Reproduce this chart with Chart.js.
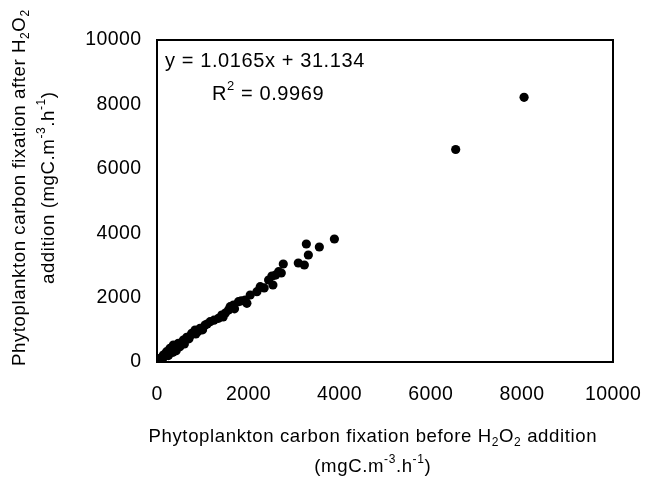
<!DOCTYPE html>
<html>
<head>
<meta charset="utf-8">
<script src="https://cdn.jsdelivr.net/npm/chart.js@4/dist/chart.umd.min.js"></script>
<style>
html,body{margin:0;padding:0;background:#fff;}
#wrap{width:646px;height:479px;position:relative;}
</style>
</head>
<body>
<div id="wrap"><canvas id="c" width="646" height="479"></canvas></div>
<script>
const xValues = [8050, 6550, 3890, 3560, 3275, 3319, 3099, 3231, 2769, 2725,
  2667, 2520, 2447, 2542, 2264, 2191, 2044, 1934, 1971, 1787, 1677, 1604, 1568, 1421, 1348,
  1165, 1055, 945, 835, 762, 652, 579, 469, 359, 286, 212, 139, 66, 29,
  1100, 1000, 900, 850, 700, 600, 500, 420, 350, 250, 300, 200, 120, 80, 400,
  1250, 1500, 1850, 2350, 2600, 1700, 1450, 720, 550, 160];
const yValues = [8220, 6600, 3820, 3571, 3665, 3323, 3075, 3012, 3043, 2764,
  2805, 2671, 2547, 2391, 2339, 2184, 2081, 1925, 1822, 1874, 1770, 1718, 1615, 1460, 1356,
  1253, 1149, 1046, 994, 891, 767, 683, 580, 528, 425, 321, 217, 115, 10,
  1180, 1000, 950, 870, 720, 560, 470, 350, 300, 200, 380, 280, 90, 40, 460,
  1300, 1520, 1900, 2300, 2700, 1650, 1400, 800, 600, 180];
const tickValues = [0, 2000, 4000, 6000, 8000, 10000];
const equationText = "y = 1.0165x + 31.134";
const r2Label = "R";
const r2Value = " = 0.9969";

const FONT = "'Liberation Sans', Arial, sans-serif";

function drawRich(ctx, segs, x, y, size, align, ls) {
  ls = ls || 0;
  const small = Math.round(size * 0.65);
  ctx.letterSpacing = ls + 'px';
  let total = 0;
  const widths = segs.map(s => {
    ctx.font = (s[1] === 'n' ? size : small) + 'px ' + FONT;
    const w = ctx.measureText(s[0]).width;
    total += w;
    return w;
  });
  total -= ls;
  let cx = align === 'center' ? x - total / 2 : (align === 'right' ? x - total : x);
  ctx.textAlign = 'left';
  ctx.textBaseline = 'middle';
  segs.forEach((s, i) => {
    let dy = 0;
    if (s[1] === 'sub') dy = size * 0.3;
    if (s[1] === 'sup') dy = -size * 0.38;
    ctx.font = (s[1] === 'n' ? size : small) + 'px ' + FONT;
    ctx.fillText(s[0], cx, y + dy);
    cx += widths[i];
  });
  ctx.letterSpacing = '0px';
}

const decor = {
  id: 'decor',
  afterDraw(chart) {
    const ctx = chart.ctx;
    const a = chart.chartArea;
    const sx = chart.scales.x, sy = chart.scales.y;
    ctx.save();
    ctx.strokeStyle = '#000';
    ctx.lineWidth = 2;
    ctx.strokeRect(a.left, a.top, a.right - a.left, a.bottom - a.top);
    ctx.fillStyle = '#000';
    // tick labels
    tickValues.forEach(v => {
      drawRich(ctx, [[String(v), 'n']], sx.getPixelForValue(v), 395, 19.5, 'center', 0.4);
      drawRich(ctx, [[String(v), 'n']], 141, sy.getPixelForValue(v), 19.5, 'right', 0.4);
    });
    // equation
    drawRich(ctx, [[equationText, 'n']], 165, 61, 20, 'left', 0.6);
    drawRich(ctx, [[r2Label, 'n'], ['2', 'sup'], [r2Value, 'n']], 212, 94, 20, 'left', 0.6);
    // x title
    const xc = 372.5;
    drawRich(ctx, [['Phytoplankton carbon fixation before H', 'n'], ['2', 'sub'], ['O', 'n'], ['2', 'sub'], [' addition', 'n']], xc, 437, 18.6, 'center', 0.6);
    drawRich(ctx, [['(mgC.m', 'n'], ['-3', 'sup'], ['.h', 'n'], ['-1', 'sup'], [')', 'n']], xc, 467, 18.6, 'center', 0.6);
    // y title
    ctx.save();
    ctx.translate(20, 188);
    ctx.rotate(-Math.PI / 2);
    drawRich(ctx, [['Phytoplankton carbon fixation after H', 'n'], ['2', 'sub'], ['O', 'n'], ['2', 'sub']], 0, 0, 18.6, 'center', 0.6);
    ctx.restore();
    ctx.save();
    ctx.translate(49, 188);
    ctx.rotate(-Math.PI / 2);
    drawRich(ctx, [['addition (mgC.m', 'n'], ['-3', 'sup'], ['.h', 'n'], ['-1', 'sup'], [')', 'n']], 0, 0, 18.6, 'center', 0.6);
    ctx.restore();
    ctx.restore();
  }
};

const pts = xValues.map((x, i) => ({ x: x, y: yValues[i] }));

new Chart(document.getElementById('c'), {
  type: 'scatter',
  data: {
    datasets: [{
      data: pts,
      backgroundColor: '#000',
      borderColor: '#000',
      pointRadius: 4.6,
      pointHoverRadius: 4.6,
      borderWidth: 0
    }]
  },
  options: {
    responsive: false,
    animation: false,
    events: [],
    layout: { padding: { top: 40, right: 33, left: 0, bottom: 0 } },
    plugins: { legend: { display: false }, tooltip: { enabled: false } },
    scales: {
      x: {
        type: 'linear', min: 0, max: 10000,
        afterBuildTicks(s) { s.ticks = tickValues.map(v => ({ value: v })); },
        grid: { display: false, drawTicks: false },
        border: { display: false },
        ticks: { display: false },
        afterFit(s) { s.height = 117; s.paddingLeft = 0; s.paddingRight = 0; }
      },
      y: {
        type: 'linear', min: 0, max: 10000,
        afterBuildTicks(s) { s.ticks = tickValues.map(v => ({ value: v })); },
        grid: { display: false, drawTicks: false },
        border: { display: false },
        ticks: { display: false },
        afterFit(s) { s.width = 157; s.paddingTop = 0; s.paddingBottom = 0; }
      }
    }
  },
  plugins: [decor]
});
</script>
</body>
</html>
